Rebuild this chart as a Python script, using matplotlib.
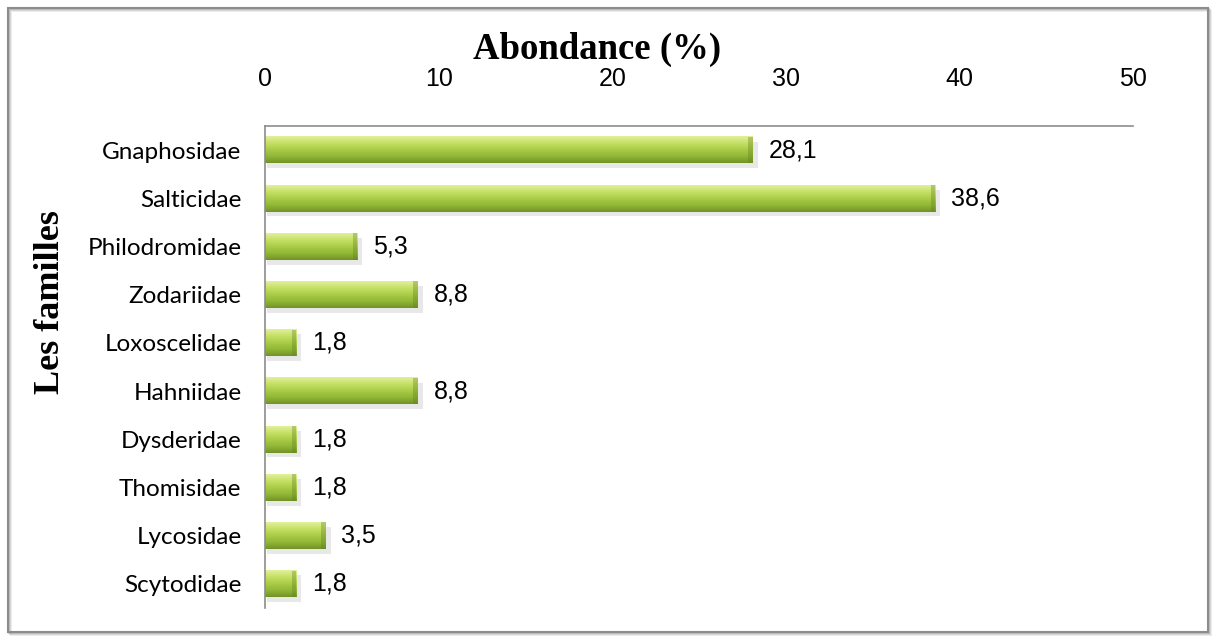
import numpy as np
import matplotlib
matplotlib.use("Agg")
import matplotlib.pyplot as plt
from matplotlib.colors import LinearSegmentedColormap
from matplotlib.patches import Rectangle

families = ["Gnaphosidae", "Salticidae", "Philodromidae", "Zodariidae", "Loxoscelidae",
            "Hahniidae", "Dysderidae", "Thomisidae", "Lycosidae", "Scytodidae"]
abundance = [28.1, 38.6, 5.3, 8.8, 1.8, 8.8, 1.8, 1.8, 3.5, 1.8]
xticks = [0, 10, 20, 30, 40, 50]

W, H = 1219, 640
fig = plt.figure(figsize=(W / 100, H / 100), dpi=100)
fig.patch.set_facecolor("white")

# outer frame with a soft shadow on the right/bottom
for i, a in enumerate([0.10, 0.18, 0.28]):
    off = (3 - i) / W
    fig.add_artist(Rectangle((8 / W + off, 8 / H - (3 - i) / H), 1200 / W, 624 / H,
                             transform=fig.transFigure, facecolor="none",
                             edgecolor=(0.4, 0.4, 0.4, a), lw=1.5))
fig.add_artist(Rectangle((8 / W, 8 / H), 1200 / W, 624 / H, transform=fig.transFigure,
                         facecolor="none", edgecolor="#8c8c8c", lw=1.5))

ax = fig.add_axes([265 / W, 1 - 608 / H, (1133 - 265) / W, (608 - 126) / H])
ax.set_facecolor("none")

bar_cmap = LinearSegmentedColormap.from_list(
    "bar", ["#e2f09a", "#c6e066", "#a9cc48", "#92b837", "#719327"])
grad = np.linspace(0, 1, 64).reshape(-1, 1)

h = 0.55
y = np.arange(len(families))
for yi, v in zip(y, abundance):
    # shadow under the bar
    ax.add_patch(Rectangle((0.1, yi - h / 2 + 0.1), v + 0.2, h, facecolor="#9a9a9a",
                           alpha=0.22, lw=0, zorder=1))
    ax.imshow(grad, extent=[0, v, yi + h / 2, yi - h / 2], aspect="auto",
              cmap=bar_cmap, zorder=2, interpolation="bilinear")
    # darker end of the bar
    ax.add_patch(Rectangle((v - 0.25, yi - h / 2), 0.25, h, facecolor="#5f7f1f",
                           alpha=0.35, lw=0, zorder=3))
    ax.text(v + 0.9, yi, f"{v:.1f}".replace(".", ","), va="center", ha="left",
            fontsize=18, family="Liberation Sans", color="black")

ax.set_xlim(0, 50)
ax.set_ylim(len(families) - 0.5, -0.5)
ax.set_xticks(xticks)
ax.set_xticklabels([str(t) for t in xticks], fontsize=18, family="Liberation Sans")
ax.xaxis.tick_top()
ax.tick_params(axis="x", length=0, pad=25)
ax.set_yticks(y)
ax.set_yticklabels(families, fontsize=17.5, family="Lato")
ax.tick_params(axis="y", length=0, pad=17)

for s in ["right", "bottom"]:
    ax.spines[s].set_visible(False)
for s in ["top", "left"]:
    ax.spines[s].set_color("#8c8c8c")
    ax.spines[s].set_linewidth(1.2)

fig.text(597 / W, 1 - 49 / H, "Abondance (%)", ha="center", va="center",
         fontsize=26.5, fontweight="bold", family="Liberation Serif")
fig.text(51 / W, 1 - 302 / H, "Les familles", ha="center", va="center", rotation=90,
         fontsize=26, fontweight="bold", family="Liberation Serif")

fig.savefig("out.png", dpi=100, facecolor="white")
